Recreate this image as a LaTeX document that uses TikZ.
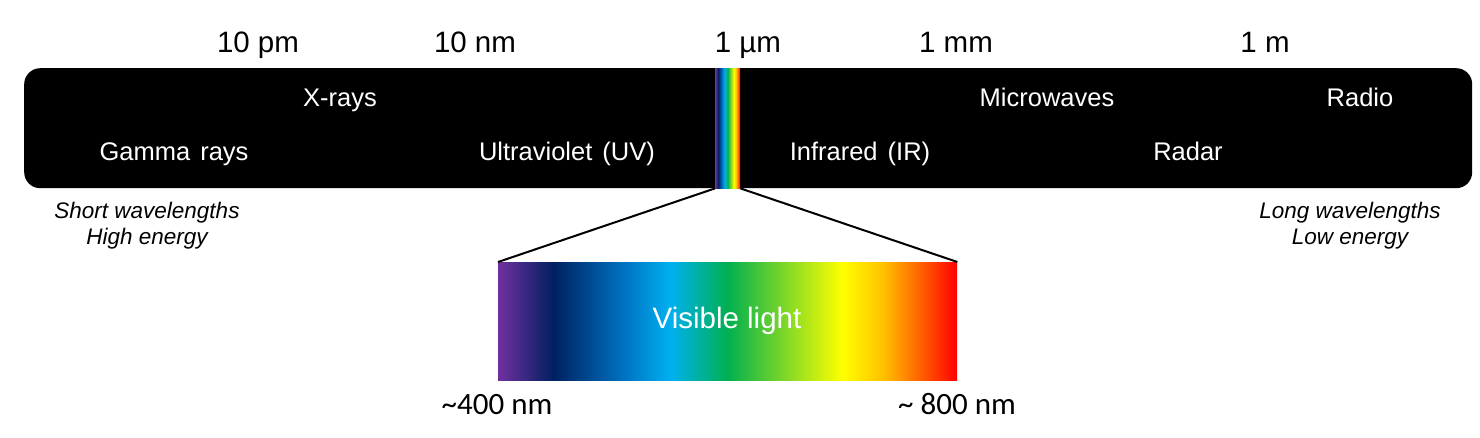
\documentclass[tikz,border=0pt]{standalone}
\usepackage{fontspec}
\setmainfont{Liberation Sans}
\newfontfamily\calfont{Carlito}
\definecolor{vpurple}{HTML}{7030A0}
\definecolor{vnavy}{HTML}{002060}
\definecolor{vblue}{HTML}{0070C0}
\definecolor{vcyan}{HTML}{00B0F0}
\definecolor{vgreen}{HTML}{00B050}
\definecolor{vlgreen}{HTML}{92D050}
\definecolor{vyellow}{HTML}{FFFF00}
\definecolor{vorange}{HTML}{FFC000}
\definecolor{vred}{HTML}{FF0000}
\pgfdeclarehorizontalshading{spectrum}{100bp}{color(0bp)=(vpurple); color(25bp)=(vpurple); color(31bp)=(vnavy); color(38.5bp)=(vblue); color(43.75bp)=(vcyan); color(50bp)=(vgreen); color(62.5bp)=(vyellow); color(67bp)=(vorange); color(75bp)=(vred); color(100bp)=(vred)}
\tikzset{
  scalelbl/.style={font=\fontsize{29.5}{34}\selectfont, text=black, anchor=base, inner sep=0pt},
  bandlbl/.style={font=\fontsize{25.5}{30}\selectfont, text=white, anchor=base, inner sep=0pt},
  notelbl/.style={font=\fontsize{22.5}{26}\selectfont\itshape, text=black, anchor=base, inner sep=0pt, align=center},
  rangelbl/.style={font=\calfont\fontsize{31}{36}\selectfont, text=black, anchor=base, inner sep=0pt},
  spec/.style={shade, shading=spectrum, inner sep=0pt, anchor=north west},
  zoomline/.style={draw=black, line width=2pt},
}
\begin{document}
\begin{tikzpicture}[x=1pt,y=-1pt]
\useasboundingbox (0,0) rectangle (1480,437);
% main bar
\node[fill=black, rounded corners=16pt, minimum width=1448pt, minimum height=120pt, inner sep=0pt, anchor=north west] (bar) at (24,68) {};
% thin visible strip
\node[spec, minimum width=25pt, minimum height=120pt] (strip) at (715,68) {};
% visible light rectangle
\node[spec, minimum width=459pt, minimum height=118pt] (vis) at (498,262) {};
\node[font=\fontsize{29.5}{34}\selectfont, text=white, inner sep=0pt] (vislbl) at (727,321) {Visible light};
% zoom lines
\draw[zoomline] (strip.south west) -- (vis.north west);
\draw[zoomline] (strip.south east) -- (vis.north east);
% scale labels
\node[scalelbl] (s1) at (258,52) {10 pm};
\node[scalelbl] (s2) at (475,52) {10 nm};
\node[scalelbl] (s3) at (748,52) {1 µm};
\node[scalelbl] (s4) at (956,52) {1 mm};
\node[scalelbl] (s5) at (1265,52) {1 m};
% band labels
\node[bandlbl] (xray) at (340,106) {X-rays};
\node[bandlbl] (micro) at (1047,106) {Microwaves};
\node[bandlbl] (radio) at (1360,106) {Radio};
\node[bandlbl] (gamma) at (174,160) {Gamma\hspace{3pt} rays};
\node[bandlbl] (uv) at (567,160) {Ultraviolet\hspace{3pt} (UV)};
\node[bandlbl] (ir) at (860,160) {Infrared\hspace{3pt} (IR)};
\node[bandlbl] (radar) at (1188,160) {Radar};
% notes
\node[notelbl] (short) at (147,218) {Short wavelengths};
\node[notelbl] (high) at (147,244) {High energy};
\node[notelbl] (long) at (1350,218) {Long wavelengths};
\node[notelbl] (low) at (1350,244) {Low energy};
% range labels
\node[rangelbl] (r400) at (497,414) {\char"007E 400 nm};
\node[rangelbl] (r800) at (957,414) {\char"007E{} 800 nm};
\end{tikzpicture}
\end{document}
